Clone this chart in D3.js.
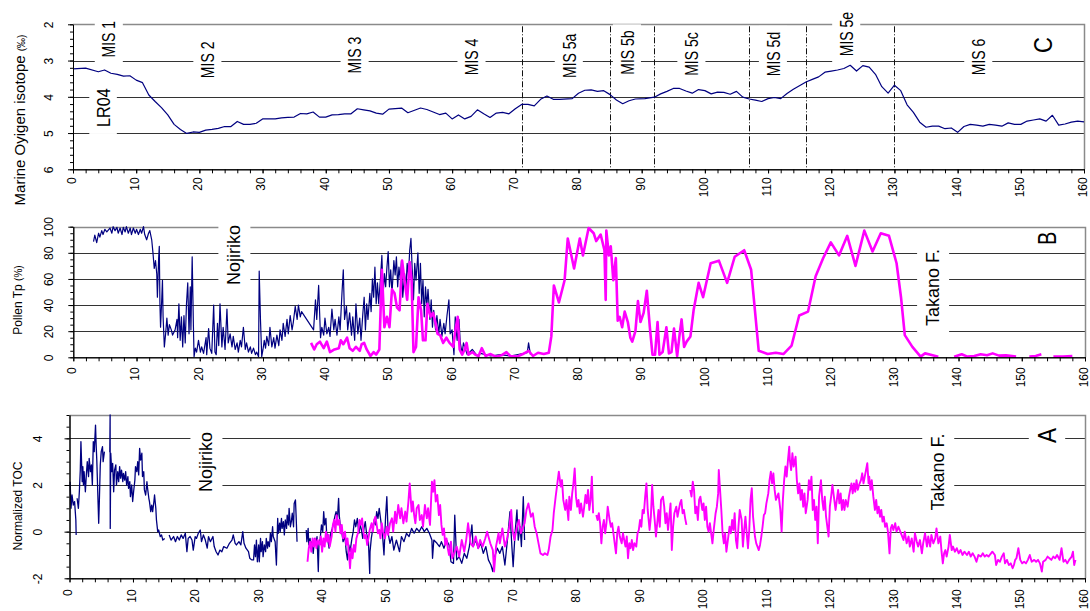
<!DOCTYPE html>
<html>
<head>
<meta charset="utf-8">
<script src="https://cdn.jsdelivr.net/npm/d3@7"></script>
<style>
  body { margin: 0; background: #fff; }
  svg { display: block; font-family: "Liberation Sans", Arial, sans-serif; }
</style>
</head>
<body>
<script>
// ---------- data (age in ka, value) ----------
// C: LR04 benthic stack, d18O (per mil)
var lr04 = [[0,3.23],[2,3.21],[4,3.31],[5,3.26],[6,3.35],[7,3.38],[8,3.43],[9,3.42],[10,3.54],[11,3.61],[12,3.95],[13,4.13],[14,4.30],[15,4.50],[16,4.76],[17,4.90],[18,5.01],[19,4.97],[20,4.98],[21,4.92],[22,4.90],[23,4.87],[24,4.82],[25,4.82],[26,4.68],[27,4.76],[28,4.76],[29,4.73],[30,4.61],[31,4.61],[32,4.61],[33,4.58],[34,4.57],[35,4.56],[36,4.46],[37,4.47],[38,4.42],[39,4.56],[40,4.56],[41,4.50],[42,4.49],[43,4.47],[44,4.47],[45,4.33],[46,4.36],[47,4.39],[48,4.45],[49,4.48],[50,4.34],[52,4.31],[53,4.44],[55,4.31],[56,4.35],[58,4.49],[59,4.45],[60,4.61],[61,4.50],[62,4.61],[63,4.54],[64,4.36],[65,4.47],[66,4.57],[67,4.45],[68,4.43],[69,4.47],[70,4.33],[71,4.21],[72,4.21],[73,4.25],[74,4.07],[75,3.98],[76,4.07],[77,4.07],[79,4.05],[80,3.90],[81,3.82],[82,3.81],[83,3.85],[84,3.83],[85,3.94],[86,4.09],[87,4.19],[88,4.11],[89,4.06],[90.5,4.05],[92,4.01],[93,3.92],[94,3.85],[95,3.77],[96,3.77],[97,3.84],[98,3.90],[99,3.80],[100,3.83],[101,3.92],[102,3.87],[103,3.88],[104,3.93],[105,3.85],[106,4.01],[107,4.06],[108,4.09],[109,4.13],[110,4.05],[111,4.02],[112,4.05],[113,3.91],[114,3.79],[116,3.59],[117,3.52],[118,3.45],[119,3.32],[120,3.29],[121,3.26],[122,3.22],[123,3.13],[124,3.29],[125,3.14],[126,3.18],[127,3.38],[128,3.72],[129,3.90],[130,3.68],[131,3.83],[132,4.22],[133,4.43],[134,4.70],[135,4.84],[136,4.81],[137,4.81],[138,4.88],[139,4.86],[140,4.98],[141,4.82],[142,4.76],[143,4.78],[144,4.81],[145,4.76],[146,4.78],[147,4.81],[148,4.72],[149,4.76],[150,4.76],[151,4.67],[152,4.64],[153,4.61],[154,4.67],[155,4.51],[156,4.78],[157,4.75],[158,4.70],[159,4.67],[160,4.69]];
var misBounds = [71, 85, 92, 107, 116, 130];
var misNames = ["MIS 1","MIS 2","MIS 3","MIS 4","MIS 5a","MIS 5b","MIS 5c","MIS 5d","MIS 5e","MIS 6"];

// B: pollen Tp (%)
var pollenNojiriko = [[3.2,88.5],[3.4,93.6],[3.7,87.8],[4.0,95],[4.2,92],[4.5,97],[4.7,94],[5.0,98],[5.3,96],[5.8,99],[6.1,95],[6.3,100],[6.6,97],[6.9,99.5],[7.1,95],[7.4,99],[7.7,94],[7.9,99.5],[8.2,96],[8.4,100],[8.7,95],[9.0,99],[9.2,94],[9.5,99],[9.8,95],[10.0,98],[10.3,94],[10.6,98],[10.8,95],[11.1,100],[11.3,94],[11.6,90],[11.9,95],[12.1,97],[12.4,90],[12.6,80],[12.8,68],[13.0,74],[13.2,64],[13.3,46],[13.5,76],[13.6,85],[13.7,41],[13.8,23],[14.0,46],[14.1,59],[14.2,31],[14.4,8],[14.6,18],[14.8,30],[15.0,17],[15.2,25],[15.5,21],[15.7,17],[16.1,21],[16.4,29],[16.5,15],[16.7,41],[16.9,13],[17.1,31],[17.3,8],[17.5,32],[17.7,11],[17.9,41],[18.1,57],[18.3,18],[18.5,54],[18.6,21],[18.8,77],[19.0,23],[19.1,0.5],[19.3,7],[19.5,4],[19.8,13],[20.1,4],[20.3,8],[20.6,3],[21.0,15],[21.1,2],[21.4,22],[21.6,7],[21.9,3],[22.2,40],[22.4,4],[22.6,2],[22.8,26],[23.0,9],[23.2,41],[23.5,8],[23.7,23],[24.0,6],[24.3,37],[24.5,11],[24.8,18],[25.1,8],[25.3,16],[25.6,6],[25.9,11],[26.1,4],[26.4,13],[26.6,8],[26.9,23],[27.2,6],[27.4,11],[27.7,4],[28.0,8],[28.2,3],[28.5,7],[28.8,2],[29.0,4],[29.3,0.5],[29.4,66],[29.6,29],[29.8,0.5],[30.0,6],[30.2,13],[30.4,7],[30.6,16],[30.9,9],[31.1,23],[31.4,8],[31.7,15],[31.9,7],[32.2,17],[32.5,9],[32.7,21],[33.0,13],[33.2,26],[33.5,16],[33.8,29],[34.0,18],[34.3,32],[34.6,21],[34.8,27],[35.1,39],[35.4,29],[35.6,40],[35.9,31],[36.1,35],[38.0,21],[38.3,44],[38.5,29],[38.8,55],[39.1,15],[39.3,23],[39.6,17],[39.8,30],[40.1,18],[40.4,23],[40.6,16],[40.9,37],[41.2,21],[41.4,29],[41.7,17],[42.0,31],[42.2,21],[42.5,50],[42.7,67],[42.9,29],[43.2,39],[43.4,21],[43.7,34],[44.0,17],[44.2,31],[44.5,13],[44.7,41],[45.0,18],[45.3,30],[45.5,13],[45.8,34],[46.0,46],[46.2,21],[46.4,41],[46.6,29],[46.9,49],[47.1,35],[47.3,60],[47.5,46],[47.7,69],[47.9,41],[48.1,57],[48.3,41],[48.6,62],[48.8,78],[49.0,48],[49.2,64],[49.4,54],[49.6,69],[49.8,81],[50.0,54],[50.2,67],[50.4,49],[50.7,74],[50.9,63],[51.1,77],[51.3,54],[51.5,69],[51.7,60],[51.9,74],[52.1,46],[52.4,64],[52.6,52],[52.8,72],[53.0,62],[53.2,82],[53.4,91],[53.6,67],[53.8,44],[54.0,72],[54.2,59],[54.5,80],[54.7,49],[54.9,72],[55.1,41],[55.3,59],[55.5,31],[55.7,54],[55.9,39],[56.1,52],[56.4,29],[56.6,44],[56.8,23],[57.0,36],[57.3,21],[57.5,32],[57.8,18],[58.0,29],[58.3,16],[58.6,26],[58.8,18],[59.1,32],[59.4,44],[59.6,18],[59.9,21],[60.2,2],[60.4,31],[60.7,13],[61.0,29],[61.2,11],[61.5,3],[61.7,11],[62.3,2],[63.1,6],[63.9,1],[64.4,3],[66.0,1],[67.5,2],[69.1,1],[70.7,2.5],[71.8,3.6],[72.0,11],[72.3,2]];
var pollenTakano = [[37.6,11],[38.1,6],[38.5,10],[39.0,12],[39.6,7],[40.1,12],[40.6,4],[41.3,6],[42.0,7],[42.3,13],[42.7,10],[43.3,15],[43.7,7],[44.2,5],[44.7,8],[45.3,5],[45.6,10],[46.0,11],[46.4,6],[47.0,1],[47.5,4],[47.9,2],[48.4,6],[48.8,67],[49.2,23],[49.6,31],[50.0,23],[50.4,52],[50.8,49],[51.2,38],[51.6,36],[52.0,74],[52.3,62],[52.8,44],[53.2,73],[53.5,59],[53.8,4],[54.2,8],[54.6,46],[55.0,36],[55.3,13],[55.7,13],[56.0,41],[56.5,31],[56.9,34],[57.3,26],[57.6,18],[58.0,17],[58.5,11],[59.0,15],[59.5,11],[60.1,8],[60.4,20],[60.8,31],[61.1,6],[61.5,2],[61.9,6],[62.2,11],[62.5,2],[63.1,4],[63.6,2],[64.1,1],[64.6,7],[65.2,1],[66.0,2.5],[66.8,0.5],[67.7,1.5],[68.5,4],[69.1,1],[70.2,0.5],[71.1,2.5],[72.0,5],[72.7,1],[73.5,3.5],[74.4,2.5],[75.2,3.5],[75.6,16],[76.0,55],[76.8,42],[77.7,59],[78.2,91],[79.2,68],[80.1,91],[80.6,78],[81.5,99],[82.3,95],[82.7,89],[83.4,94],[84.0,82],[84.2,44],[84.3,97],[84.7,78],[85.0,85],[85.4,59],[85.8,76],[86.1,28],[86.4,31],[86.8,23],[87.2,35],[87.7,27],[88.1,15],[88.4,12],[88.9,20],[89.3,43],[89.7,27],[90.2,34],[90.7,51],[91.2,22],[91.6,2],[92.0,2],[92.4,27],[92.7,2],[93.2,4],[93.8,23],[94.2,3],[94.6,4],[95.0,22],[95.5,1],[95.9,18],[96.2,29],[96.6,8],[97.0,12],[97.6,16],[98.1,36],[98.9,57],[99.6,46],[100.8,72],[102.1,74],[103.4,57],[104.6,77],[106.1,82],[107.2,67],[108.4,5],[109.8,2.5],[111.1,3.5],[112.3,2.5],[113.6,9],[114.8,32],[116.2,35],[117.4,62],[118.6,76],[119.8,88],[121.1,78],[122.4,93],[123.7,70],[125.1,97],[126.4,81],[127.7,95],[129.0,93],[130.2,72],[130.9,46],[131.5,17],[132.7,8],[134.0,0.5],[134.7,3],[135.6,2],[136.8,0.5],[137.5,null],[139.3,0.5],[140.5,2.3],[141.4,0.5],[142.5,1],[143.5,2.3],[144.5,1.5],[145.4,3],[146.4,1.3],[147.5,1.5],[149.1,0.5],[150,null],[151.2,0.5],[152.2,1],[153.1,2.3],[154,null],[155.0,0.5],[156.5,0.5],[158.0,1]];

// A: normalized TOC
var tocNojiriko = [[0.1,2.14],[0.24,1.0],[0.4,1.57],[0.6,1.14],[0.8,1.29],[1.0,0.5],[1.05,-0.14],[1.1,null],[1.2,1.43],[1.4,1.0],[1.55,1.71],[1.7,2.64],[1.8,3.86],[2.0,2.14],[2.1,2.79],[2.2,2.0],[2.3,2.57],[2.5,1.71],[2.65,2.43],[2.8,3.0],[3.0,2.36],[3.1,3.14],[3.3,2.57],[3.45,2.86],[3.6,2.0],[3.75,3.86],[3.9,3.43],[4.1,4.57],[4.2,3.71],[4.3,3.07],[4.45,1.71],[4.6,0.36],[4.7,1.29],[4.85,2.86],[5.0,3.43],[5.2,3.64],[5.3,3.0],[5.5,3.43],[5.6,null],[6.35,3.4],[6.4,5.0],[6.42,0.14],[6.5,3.36],[6.65,2.57],[6.8,2.93],[6.96,1.71],[7.1,2.64],[7.3,2.86],[7.4,2.0],[7.6,2.57],[7.75,2.14],[7.9,2.79],[8.05,2.29],[8.2,2.64],[8.4,2.14],[8.5,2.5],[8.7,2.21],[8.85,2.57],[9.0,2.0],[9.2,2.36],[9.3,1.86],[9.5,2.14],[9.6,1.5],[9.8,2.0],[9.95,1.29],[10.1,1.71],[10.3,2.21],[10.4,2.79],[10.6,2.57],[10.75,3.0],[10.9,2.43],[11.05,3.57],[11.2,3.07],[11.4,3.36],[11.5,2.36],[11.7,2.57],[11.8,1.79],[12.0,1.57],[12.2,2.14],[12.3,1.86],[12.5,1.43],[12.6,1.29],[12.8,0.86],[12.95,1.14],[13.1,0.86],[13.3,1.29],[13.4,1.57],[13.6,1.0],[13.7,0.5],[13.9,0.0],[14.05,0.07],[14.3,-0.21],[14.5,-0.14],[14.7,-0.36],[15.0,-0.29],[15.3,null],[15.7,-0.14],[16.0,-0.36],[16.4,-0.21],[16.7,-0.43],[17.0,-0.21],[17.3,-0.36],[17.6,-0.14],[17.9,-0.29],[18.25,-0.07],[18.5,-0.86],[18.7,-0.29],[19.0,-0.21],[19.3,-0.36],[19.5,-0.79],[19.8,-0.21],[20.0,-0.29],[20.3,-0.07],[20.6,0.07],[20.8,-0.43],[21.1,-0.14],[21.4,-0.36],[21.7,-0.71],[21.9,-0.21],[22.2,-0.43],[22.6,-0.21],[22.8,-0.64],[23.1,-0.86],[23.4,-1.0],[23.7,-0.79],[24.0,-0.86],[24.3,-0.64],[24.8,-0.71],[25.2,-0.5],[25.6,-0.36],[25.8,-0.14],[26.1,-0.5],[26.3,-0.57],[26.7,-0.43],[27.0,-0.57],[27.3,0.0],[27.5,-0.5],[27.8,-0.71],[28.2,-0.86],[28.4,-1.14],[28.7,-1.21],[29.0,-1.21],[29.15,-0.57],[29.3,-1.07],[29.45,-0.36],[29.6,-1.29],[29.8,-0.57],[29.9,-1.29],[30.1,-0.29],[30.2,-0.86],[30.4,-0.43],[30.5,-1.07],[30.7,-0.57],[30.9,-0.86],[31.0,-0.29],[31.2,-0.71],[31.3,-0.43],[31.5,-0.64],[31.65,-0.07],[31.8,-0.43],[32.0,0.21],[32.1,-0.21],[32.4,-0.43],[32.6,-1.43],[32.8,0.57],[32.9,-0.07],[33.1,0.36],[33.2,0.0],[33.4,0.57],[33.5,0.14],[33.7,0.43],[33.85,-0.14],[34.0,0.5],[34.2,0.14],[34.3,0.71],[34.5,0.29],[34.6,1.0],[34.8,0.21],[34.95,0.43],[35.1,0.79],[35.3,0.21],[35.4,1.21],[35.6,1.36],[35.7,0.71],[35.85,-0.43],[36.5,null],[37.3,0.07],[37.4,-0.43],[37.6,0.14],[37.7,-0.57],[37.9,-0.29],[38.05,-0.71],[38.2,-0.43],[38.4,-0.93],[38.6,-0.29],[38.8,-0.57],[39.0,-0.21],[39.2,-1.71],[39.3,-0.57],[39.5,-0.29],[39.7,0.29],[39.9,0.0],[40.05,0.86],[40.2,0.29],[40.4,0.57],[40.5,0.0],[40.7,-0.36],[40.9,-0.71],[41.1,-0.14],[41.4,0.14],[41.6,0.36],[41.8,0.64],[42.0,0.86],[42.2,0.5],[42.4,1.43],[42.5,0.71],[42.7,0.14],[42.9,0.0],[43.1,-0.43],[43.4,-0.21],[43.6,-0.86],[43.8,-1.21],[44.0,-0.57],[44.2,-0.86],[44.5,-0.29],[44.7,0.0],[44.9,0.5],[45.1,0.21],[45.35,0.57],[45.6,-0.07],[45.8,0.29],[46.0,0.07],[46.2,-0.29],[46.4,0.14],[46.6,0.43],[46.8,-0.07],[47.1,-0.43],[47.3,-1.79],[47.35,-0.86],[47.55,-0.29],[47.8,0.14],[48.0,0.5],[48.2,0.29],[48.4,0.86],[48.6,0.57],[48.8,1.0],[49.3,-0.07],[49.55,-1.0],[49.8,0.64],[50.0,1.5],[50.2,-0.07],[50.5,-0.5],[50.8,-0.21],[51.1,-0.79],[51.5,-0.36],[52.0,-0.86],[52.3,-0.21],[52.7,-0.43],[53.1,-0.07],[53.5,-0.21],[53.9,0.14],[54.3,-0.07],[54.7,0.14],[55.1,0.0],[55.5,0.21],[55.9,0.0],[56.3,0.14],[56.7,-0.07],[57.1,-0.36],[57.2,-1.14],[57.4,-0.36],[57.9,-0.5],[58.3,-0.64],[58.6,-0.43],[59.0,-0.71],[59.4,-0.36],[59.8,-0.57],[60.1,-1.29],[60.5,-1.36],[60.7,0.71],[61.0,-1.21],[61.4,-1.07],[61.8,-1.36],[62.2,-0.93],[62.6,-1.14],[63.0,-0.64],[63.4,0.29],[63.6,-0.64],[64.0,-0.36],[64.4,-0.71],[64.8,-0.5],[65.2,-0.93],[65.6,-0.64],[66.0,-1.21],[66.4,-1.43],[66.7,-1.71],[67.0,-1.07],[67.4,-0.71],[67.8,-0.93],[68.2,-0.64],[68.6,-1.43],[69.0,-0.36],[69.4,0.86],[69.7,-0.64],[69.9,-1.5],[70.2,-0.07],[70.5,0.93],[70.7,-0.36],[71.0,0.21],[71.2,-0.64],[71.5,1.5],[71.7,-0.36]];
var tocTakano = [[37.5,-1.29],[37.7,-0.71],[37.9,-0.43],[38.1,-0.86],[38.3,-0.29],[38.5,-0.64],[38.7,-0.29],[38.9,-0.71],[39.1,-0.36],[39.4,-0.57],[39.6,-0.21],[39.8,-0.86],[40.0,-0.29],[40.2,-0.64],[40.4,0.0],[40.6,-0.43],[40.8,-0.14],[41.0,-0.64],[41.3,-0.21],[41.5,0.29],[41.7,0.5],[41.9,0.0],[42.1,0.71],[42.3,0.29],[42.5,0.5],[42.7,-0.07],[42.9,0.29],[43.1,-0.29],[43.4,0.0],[43.6,-0.57],[43.8,-0.29],[44.0,-0.86],[44.2,-1.57],[44.4,-0.71],[44.6,-1.14],[44.8,-0.57],[45.0,-0.86],[45.2,-0.29],[45.5,0.0],[45.7,0.5],[45.9,0.29],[46.1,0.57],[46.3,0.0],[46.5,-0.29],[46.7,-0.14],[46.9,-0.57],[47.1,-0.29],[47.3,0.07],[47.6,0.36],[47.8,0.0],[48.0,0.5],[48.2,0.64],[48.4,0.29],[48.6,-0.07],[48.8,0.07],[49.0,-0.29],[49.2,0.36],[49.4,0.0],[49.7,-0.29],[50.0,0.21],[50.2,-0.14],[50.5,0.36],[50.8,0.57],[51.0,0.0],[51.3,0.86],[51.5,0.36],[51.8,1.14],[52.1,0.57],[52.3,1.0],[52.6,0.36],[52.9,0.86],[53.1,0.43],[53.4,1.29],[53.6,2.07],[53.9,0.86],[54.1,1.29],[54.3,0.71],[54.5,0.36],[54.7,1.0],[55.0,1.14],[55.2,0.5],[55.5,0.71],[55.7,0.21],[56.0,1.14],[56.3,0.57],[56.5,1.0],[56.8,0.29],[57.1,2.14],[57.3,1.71],[57.5,2.21],[57.7,1.29],[57.95,1.57],[58.2,0.71],[58.4,1.14],[58.6,0.29],[58.8,-0.14],[59.0,0.14],[59.2,-0.57],[59.4,-0.29],[59.6,-0.71],[59.8,-1.0],[60.1,-0.43],[60.3,-1.14],[60.6,-0.93],[61.0,-0.64],[61.4,-1.07],[61.8,-0.36],[62.2,-0.86],[62.5,-0.36],[62.8,0.36],[63.2,-0.5],[63.6,-0.64],[64.0,-0.21],[64.4,-0.71],[64.7,-0.36],[65.1,-0.64],[65.5,-0.29],[65.8,0.0],[66.3,-0.5],[66.7,-0.79],[66.9,-1.71],[67.2,-0.64],[67.6,-0.07],[67.8,-0.5],[68.2,0.14],[68.6,-0.64],[68.9,-0.36],[69.3,0.21],[69.6,0.93],[69.8,0.07],[70.1,-0.36],[70.5,0.21],[70.8,0.5],[71.1,-0.07],[71.4,0.14],[71.7,0.36],[72.0,0.93],[72.3,1.21],[72.7,0.64],[73.0,0.79],[73.3,0.21],[73.6,-0.07],[73.9,-0.5],[74.2,-0.93],[74.6,-1.0],[74.9,-0.93],[75.3,-1.0],[75.5,-0.79],[75.8,-0.21],[76.1,0.07],[76.3,0.79],[76.6,1.5],[76.9,2.14],[77.1,2.57],[77.4,1.93],[77.6,2.21],[77.8,1.36],[78.1,0.93],[78.3,1.36],[78.6,0.5],[78.75,1.5],[79.0,0.93],[79.2,1.64],[79.4,2.07],[79.6,2.71],[79.8,1.5],[80.0,1.07],[80.2,1.36],[80.4,0.79],[80.6,1.21],[80.9,0.64],[81.1,1.07],[81.3,1.57],[81.5,1.21],[81.7,1.79],[81.9,0.93],[82.1,1.36],[82.3,2.36],[82.5,0.79],[82.7,null],[83.0,0.71],[83.2,0.5],[83.4,0.79],[83.6,0.36],[83.8,-0.5],[84.0,0.21],[84.2,0.5],[84.4,-0.07],[84.6,0.36],[84.8,1.07],[85.1,0.5],[85.3,0.21],[85.5,0.36],[85.7,-0.07],[85.9,-0.5],[86.1,-0.93],[86.3,-0.07],[86.5,0.21],[86.7,-0.21],[87.0,-0.5],[87.2,-0.07],[87.4,-0.36],[87.6,-0.64],[87.8,-0.21],[88.0,-1.14],[88.2,-0.5],[88.4,-0.71],[88.6,-0.36],[88.8,-0.79],[89.0,-0.5],[89.3,-0.64],[89.5,-0.07],[89.7,0.07],[89.9,0.5],[90.1,0.21],[90.3,0.93],[90.5,0.79],[90.7,1.5],[90.9,2.07],[91.1,0.93],[91.4,0.07],[91.6,0.64],[91.8,2.0],[92.0,1.07],[92.2,0.5],[92.4,-0.21],[92.6,0.36],[92.8,0.93],[93.0,0.21],[93.2,1.36],[93.5,1.5],[93.7,1.07],[93.9,0.36],[94.1,0.79],[94.3,0.07],[94.5,0.64],[94.7,1.21],[94.9,-0.79],[95.1,0.21],[95.3,0.79],[95.6,1.07],[95.8,0.64],[96.0,0.93],[96.2,1.21],[96.4,1.36],[96.6,0.79],[96.8,0.93],[97.0,0.57],[97.2,0.29],[97.4,null],[97.8,1.79],[98.0,1.5],[98.2,2.14],[98.4,1.79],[98.6,0.79],[98.8,1.07],[99.0,0.5],[99.2,1.36],[99.4,1.5],[99.7,0.93],[99.9,1.21],[100.1,0.5],[100.3,1.07],[100.5,0.21],[100.7,0.0],[100.9,0.36],[101.1,-0.07],[101.3,-0.5],[101.5,0.07],[101.8,0.79],[102.0,1.07],[102.2,1.64],[102.3,2.64],[102.5,1.79],[102.7,0.93],[102.9,-0.07],[103.1,-0.5],[103.3,-0.07],[103.5,-0.86],[103.8,-0.21],[104.0,0.21],[104.2,-0.07],[104.4,0.5],[104.6,0.07],[104.8,0.79],[105.0,-0.36],[105.2,-0.71],[105.4,0.21],[105.6,0.93],[105.9,0.5],[106.1,-0.64],[106.3,0.07],[106.5,0.64],[106.7,-0.07],[106.9,-0.71],[107.1,0.07],[107.3,1.36],[107.5,1.86],[107.7,0.64],[108.0,-0.21],[108.2,-0.5],[108.4,-0.64],[108.6,-0.79],[108.8,-0.57],[109.0,-0.21],[109.2,0.21],[109.4,0.71],[109.6,0.79],[109.8,1.21],[110.1,1.64],[110.3,2.21],[110.5,2.57],[110.7,2.07],[110.9,2.5],[111.1,1.79],[111.3,1.36],[111.7,1.64],[112.0,0.93],[112.2,0.0],[112.4,1.36],[112.6,2.21],[112.8,2.79],[113.0,2.36],[113.2,3.07],[113.4,3.64],[113.5,3.07],[113.7,2.64],[113.9,3.36],[114.1,2.79],[114.4,3.21],[114.6,2.21],[114.8,1.64],[115.0,2.07],[115.2,1.36],[115.4,1.79],[115.6,1.07],[115.8,1.64],[116.0,0.79],[116.3,1.36],[116.5,2.21],[116.7,1.79],[116.9,2.36],[117.1,0.93],[117.3,1.36],[117.5,0.5],[117.7,1.07],[117.9,-0.5],[118.1,1.5],[118.4,2.21],[118.6,1.36],[118.8,0.93],[119.0,1.5],[119.2,0.64],[119.4,0.21],[119.6,-0.21],[119.8,1.07],[120.0,1.5],[120.2,2.0],[120.5,1.36],[120.7,0.93],[120.9,1.36],[121.1,1.79],[121.3,1.21],[121.5,1.64],[121.7,0.93],[121.9,1.36],[122.1,0.93],[122.3,1.36],[122.6,1.07],[122.8,1.5],[123.0,1.79],[123.2,2.07],[123.4,1.64],[123.6,2.07],[123.8,1.71],[124.0,2.21],[124.2,1.79],[124.4,2.0],[124.7,2.21],[124.9,2.5],[125.1,2.07],[125.3,2.36],[125.5,2.64],[125.7,2.93],[125.9,2.07],[126.0,2.36],[126.2,1.79],[126.4,2.21],[126.65,1.5],[126.9,0.93],[127.1,1.36],[127.3,0.79],[127.5,1.07],[127.7,0.64],[127.9,0.93],[128.1,0.43],[128.3,0.64],[128.5,0.21],[128.75,0.36],[128.95,0.0],[129.2,-0.93],[129.4,0.14],[129.6,0.29],[129.8,0.07],[130.1,0.36],[130.3,0.0],[130.6,0.21],[130.9,0.0],[131.1,-0.14],[131.4,-0.36],[131.6,0.0],[131.9,-0.5],[132.2,-0.21],[132.4,-0.64],[132.7,-0.29],[133.0,-0.86],[133.2,-0.07],[133.5,-0.43],[133.7,-0.64],[134.0,-0.36],[134.3,-0.93],[134.5,-0.5],[134.8,-0.07],[135.1,-0.64],[135.3,-0.21],[135.6,-0.64],[135.8,-0.14],[136.1,-0.5],[136.4,-0.29],[136.6,0.14],[136.9,-0.5],[137.2,-0.21],[137.4,-0.86],[137.6,-1.36],[137.8,-0.93],[138.0,-0.79],[138.2,-1.07],[138.5,-0.64],[138.7,-0.14],[139.0,-0.79],[139.2,-0.64],[139.5,-0.86],[139.8,-0.71],[140.1,-0.93],[140.4,-0.79],[140.7,-1.0],[141.0,-0.86],[141.4,-1.0],[141.7,-0.86],[142.0,-1.07],[142.3,-0.93],[142.6,-1.07],[142.9,-1.29],[143.2,-1.0],[143.6,-1.07],[143.9,-0.93],[144.2,-1.07],[144.5,-1.0],[144.8,-1.07],[145.1,-0.96],[145.4,-0.86],[145.8,-1.0],[146.0,-1.43],[146.3,-1.21],[146.6,-1.29],[146.9,-1.07],[147.2,-0.93],[147.4,-1.36],[147.7,-1.21],[148.0,-1.43],[148.3,-1.36],[148.6,-1.57],[148.8,-1.43],[149.0,-1.21],[149.2,-1.14],[149.5,-0.71],[149.8,-1.21],[150.1,-1.36],[150.4,-1.29],[150.7,-1.36],[151.0,-1.21],[151.3,-1.0],[151.6,-1.29],[152.0,-1.21],[152.3,-1.29],[152.6,-1.21],[152.9,-1.36],[153.2,-1.71],[153.4,-1.29],[153.8,-1.21],[154.1,-1.07],[154.4,-1.14],[154.7,-1.21],[155.0,-1.07],[155.3,-1.14],[155.6,-1.0],[156.0,-1.21],[156.3,-0.71],[156.6,-1.29],[156.9,-1.21],[157.2,-1.36],[157.5,-1.21],[157.9,-1.07],[158.1,-0.86],[158.3,-1.43],[158.5,-1.21]];

// tick values
var ageTicks = d3.range(0, 161, 10);
var ageMinor = d3.range(0, 161, 2);
var isoTicks = [2, 3, 4, 5, 6];
var pollenTicks = [0, 20, 40, 60, 80, 100];
var tocTicks = [-2, 0, 2, 4];

// ---------- drawing ----------
var width = 1090, height = 611;
var NAVY = "#000080", PINK = "#ff00ff";

var svg = d3.select("body").append("svg")
  .attr("width", width)
  .attr("height", height);

// 建立一个面板：比例尺、网格、边框
function makePanel(p) {
  var x = d3.scaleLinear().domain([0, 160]).range([p.left, p.right]);
  var y = d3.scaleLinear().domain(p.yDomain).range([p.bottom, p.top]);
  var g = svg.append("g");
  g.selectAll("line.grid")
    .data(p.grid)
    .enter()
    .append("line")
    .attr("x1", p.left).attr("x2", p.right)
    .attr("y1", function(d){ return Math.round(y(d)) + 0.5 })
    .attr("y2", function(d){ return Math.round(y(d)) + 0.5 })
    .attr("stroke", "#333").attr("stroke-width", 1);
  // top & right border, gray
  g.append("path")
    .attr("d", "M" + p.left + "," + (Math.round(p.top) + 0.5) + "H" + (Math.round(p.right) + 0.5) + "V" + p.bottom)
    .attr("fill", "none").attr("stroke", "#8a8a8a").attr("stroke-width", 1.5);
  return { x: x, y: y, g: g, p: p };
}

function drawAxes(P) {
  var p = P.p;
  var font = '"Liberation Sans", Arial, sans-serif';
  var fmt = function(d){ return String(d) };
  // y minor
  svg.append("g").attr("transform", "translate(" + p.left + ",0)")
    .call(d3.axisLeft(P.y).tickValues(p.yMinor).tickSize(3).tickSizeOuter(0).tickFormat(""));
  var ya = svg.append("g").attr("transform", "translate(" + p.left + ",0)")
    .call(d3.axisLeft(P.y).tickValues(p.yTicks).tickSize(5).tickSizeOuter(0).tickFormat(fmt));
  ya.attr("font-family", font).attr("font-size", 12);
  ya.selectAll("text")
    .attr("transform", "rotate(-90)")
    .attr("x", 0).attr("y", -p.yLabOff).attr("dy", 0)
    .attr("text-anchor", "middle");
  // x
  svg.append("g").attr("transform", "translate(0," + p.bottom + ")")
    .call(d3.axisBottom(P.x).tickValues(ageMinor).tickSize(4).tickSizeOuter(0).tickFormat(""));
  var xa = svg.append("g").attr("transform", "translate(0," + p.bottom + ")")
    .call(d3.axisBottom(P.x).tickValues(ageTicks).tickSize(4).tickSizeOuter(0).tickFormat(fmt));
  xa.attr("font-family", font).attr("font-size", 12);
  xa.selectAll("text")
    .attr("transform", "rotate(-90)")
    .attr("x", -p.xLabOff).attr("y", 0).attr("dy", "0.2em")
    .attr("text-anchor", "end");
  svg.selectAll(".domain").attr("stroke", "#000");
}

function drawLine(P, data, color, w) {
  var line = d3.line()
    .defined(function(d){ return d[1] != null })
    .x(function(d){ return P.x(d[0]) })
    .y(function(d){ return P.y(d[1]) });
  P.g.append("path")
    .datum(data)
    .attr("d", line)
    .attr("fill", "none")
    .attr("stroke", color)
    .attr("stroke-width", w)
    .attr("stroke-linejoin", "round");
}

// 旋转的标签，带白底
function note(layer, boxLayer, cx, cy, txt, size, sx, padX, padY) {
  var t = layer.append("text")
    .attr("transform", "translate(" + cx + "," + cy + ") rotate(-90) scale(" + sx + ",1)")
    .attr("text-anchor", "middle")
    .attr("dy", "0.36em")
    .attr("font-size", size)
    .attr("fill", "#000")
    .text(txt);
  if (padX != null) {
    var bb = t.node().getBoundingClientRect();
    boxLayer.append("rect")
      .attr("x", bb.left - padX).attr("y", bb.top - padY)
      .attr("width", bb.width + 2 * padX).attr("height", bb.height + 2 * padY)
      .attr("fill", "#fff");
  }
  return t;
}

function yTitle(x, y, main, unit, size, usize) {
  var t = svg.append("text")
    .attr("transform", "translate(" + x + "," + y + ") rotate(-90)")
    .attr("text-anchor", "middle")
    .attr("font-size", size);
  t.append("tspan").text(main);
  if (unit) t.append("tspan").attr("font-size", usize).text(unit);
}

// ----- panel C -----
var C = makePanel({ left: 73, right: 1084, top: 24.3, bottom: 169.3, yDomain: [6, 2],
  grid: [3, 4, 5], yTicks: isoTicks, yMinor: d3.range(2, 6.01, 0.2), yLabOff: 20, xLabOff: 8 });
C.g.selectAll("line.mis")
  .data(misBounds)
  .enter()
  .append("line")
  .attr("x1", function(d){ return Math.round(C.x(d)) + 0.5 })
  .attr("x2", function(d){ return Math.round(C.x(d)) + 0.5 })
  .attr("y1", C.y(2) + 2).attr("y2", C.y(6) - 1)
  .attr("stroke", "#111").attr("stroke-width", 1)
  .attr("stroke-dasharray", "6,2,1,2");

// ----- panel B -----
var B = makePanel({ left: 73.3, right: 1085, top: 226.7, bottom: 357.3, yDomain: [0, 100],
  grid: [20, 40, 60, 80], yTicks: pollenTicks, yMinor: d3.range(0, 101, 5), yLabOff: 20, xLabOff: 10 });

// ----- panel A -----
var A = makePanel({ left: 69.5, right: 1085, top: 415, bottom: 578.3, yDomain: [-2, 5],
  grid: [0, 2, 4], yTicks: tocTicks, yMinor: d3.range(-2, 5.01, 0.5), yLabOff: 27.5, xLabOff: 11 });

// label boxes sit above grid but below the curves
var boxLayer = svg.append("g");
var dataLayer = svg.append("g");
var textLayer = svg.append("g");
C.g = dataLayer; B.g = dataLayer; A.g = dataLayer;

drawLine(C, lr04, NAVY, 1.2);
drawLine(B, pollenNojiriko, NAVY, 1.2);
drawLine(B, pollenTakano, PINK, 2.6);
drawLine(A, tocNojiriko, NAVY, 1.3);
drawLine(A, tocTakano, PINK, 1.9);

drawAxes(C); drawAxes(B); drawAxes(A);

// MIS labels (age, d18O at label centre)
var misPos = [[5.7,2.41],[21.3,2.98],[44.6,2.85],[63.1,2.90],[78.5,2.87],[87.7,2.78],[97.9,2.82],[110.8,2.82],[122.4,2.27],[143.3,2.90]];
misNames.forEach(function(n, i){
  note(textLayer, boxLayer, C.x(misPos[i][0]), C.y(misPos[i][1]), n, 18, 0.78, 4, 6);
});
note(textLayer, boxLayer, C.x(4.7), C.y(4.30), "LR04", 19, 0.85, 3, 7);
note(textLayer, boxLayer, C.x(153.5), C.y(2.57), "C", 26, 0.85, 6, 8);

note(textLayer, boxLayer, B.x(25.4), B.y(78.3), "Nojiriko", 18, 1, 6, 8);
note(textLayer, boxLayer, B.x(135.9), B.y(53.4), "Takano F.", 18, 1, 6, 6);
note(textLayer, boxLayer, B.x(154), B.y(91), "B", 25, 0.8);

note(textLayer, boxLayer, A.x(21.5), A.y(2.99), "Nojiriko", 18, 1, 6, 6);
note(textLayer, boxLayer, A.x(136.8), A.y(2.56), "Takano F.", 18, 1, 6, 6);
note(textLayer, boxLayer, A.x(154), A.y(4.12), "A", 25, 0.9, 4, 6);

yTitle(25, 120, "Marine Oyigen isotope ", "(‰)", 15, 10);
yTitle(22, 300, "Pollen Tp ", "(%)", 12, 10);
yTitle(22, 506, "Normalized TOC", null, 12);
</script>
</body>
</html>
